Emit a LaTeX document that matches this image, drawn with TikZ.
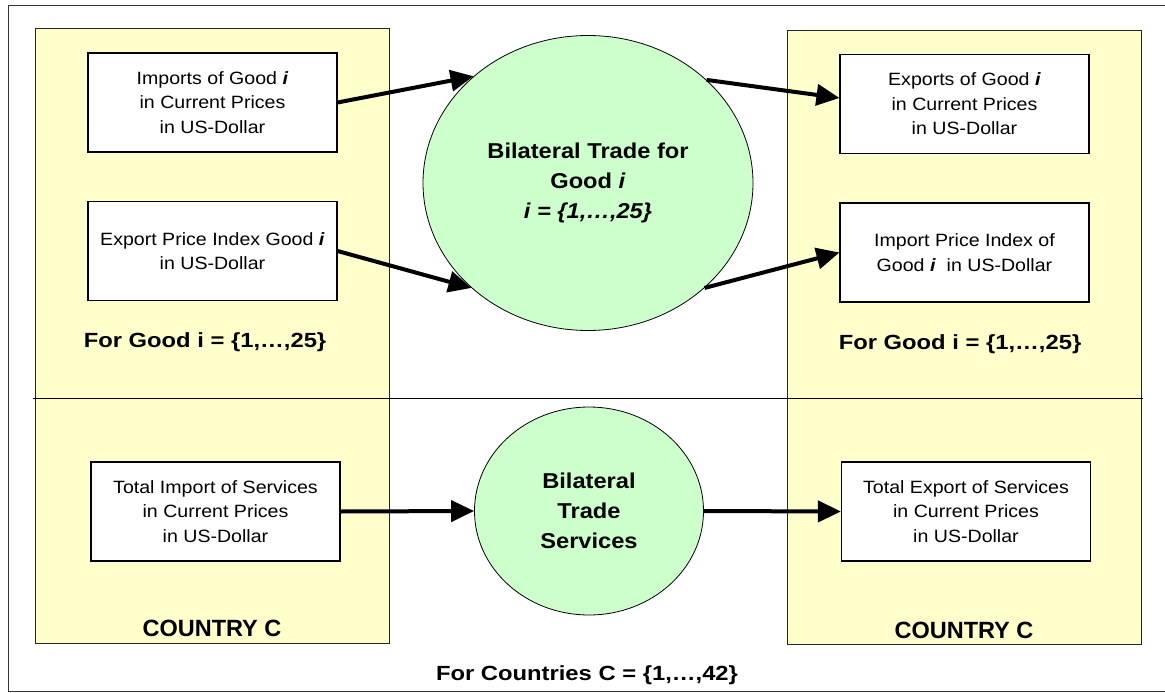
\documentclass[tikz,border=0pt]{standalone}
\usepackage{fontspec}
\setmainfont{Liberation Sans}
\newfontfamily\boxf{Liberation Sans}[FakeStretch=1.1]
\newfontfamily\lblf{Liberation Sans}[FakeStretch=1.16]
\newfontfamily\ellf{Liberation Sans}[FakeStretch=1.1]
\usetikzlibrary{arrows.meta,calc,shapes.geometric}
\definecolor{paleyellow}{HTML}{FFFFCC}
\definecolor{palegreen}{HTML}{CCFFCC}
\begin{document}
\begin{tikzpicture}[x=1pt,y=-1pt,
  country/.style={draw=black!85, line width=1pt, fill=paleyellow, inner sep=0pt,
    minimum width=354pt},
  infobox/.style={draw=black, line width=1.1pt, fill=white, inner sep=0pt,
    align=center, minimum width=249pt, minimum height=99pt,
    font=\boxf\fontsize{17.8}{24.5}\selectfont},
  trade/.style={ellipse, draw=black, line width=0.8pt, fill=palegreen, inner sep=0pt,
    align=center, font=\ellf\bfseries\fontsize{21.5}{30}\selectfont},
  biglabel/.style={inner sep=0pt, align=center, font=\lblf\bfseries\fontsize{20.5}{24}\selectfont},
  ctrylabel/.style={inner sep=0pt, font=\bfseries\fontsize{23.5}{28}\selectfont},
  flow/.style={line width=4pt, -{Triangle[length=23pt,width=21pt]}}]
\useasboundingbox (0,0) rectangle (1165,693);
\fill[white] (0,0) rectangle (1165,693);
% outer frame
\draw[line width=0.9pt, black!80] (1175,5) -- (8,5) -- (8,691) -- (1175,691);
% country panels
\node[country, minimum height=614pt] (leftc) at (212,336) {};
\node[country, minimum height=613pt] (rightc) at (964,337.5) {};
% divider
\coordinate (divl) at (33,398);
\coordinate (divr) at (1143,398);
\draw[line width=0.9pt] (divl) -- (divr);
% info boxes
\node[infobox] (imp) at (212.5,102.5) {Imports of Good \textbf{\textit{i}}\\in Current Prices\\in US-Dollar};
\node[infobox] (epi) at (212.5,251) {Export Price Index Good \textbf{\textit{i}}\\in US-Dollar};
\node[infobox] (exp) at (964.5,104) {Exports of Good \textbf{\textit{i}}\\in Current Prices\\in US-Dollar};
\node[infobox] (ipi) at (964.5,252.5) {Import Price Index of\\Good \textbf{\textit{i}}\ \ in US-Dollar};
\node[infobox] (tis) at (215.5,511.5) {Total Import of Services\\in Current Prices\\in US-Dollar};
\node[infobox] (tes) at (966,511.5) {Total Export of Services\\in Current Prices\\in US-Dollar};
% trade ellipses
\node[trade, minimum width=330pt, minimum height=295pt] (good) at (588,183)
  {Bilateral Trade for\\Good \textit{i}\\\textit{i = \{1,…,25\}}};
\node[trade, minimum width=229pt, minimum height=208pt] (svc) at (589,511)
  {Bilateral\\Trade\\Services};
% labels
\node[biglabel] (lgood) at (205,342) {For Good i = \{1,…,25\}};
\node[biglabel] (rgood) at (960,344) {For Good i = \{1,…,25\}};
\node[ctrylabel] (lcty) at (212,628) {COUNTRY C};
\node[ctrylabel] (rcty) at (964,630) {COUNTRY C};
\node[biglabel] (allc) at (587,675) {For Countries C = \{1,…,42\}};
% flows
\draw[flow] (imp.east) -- (good.137.8);
\draw[flow] (epi.east) -- (good.222.2);
\draw[flow] (good.41.9) -- ($(exp.west)+(0,-6)$);
\draw[flow] (good.318.1) -- (ipi.west);
\draw[flow] (tis.east) -- (svc.west);
\draw[flow] (svc.east) -- (tes.west);
\end{tikzpicture}
\end{document}
